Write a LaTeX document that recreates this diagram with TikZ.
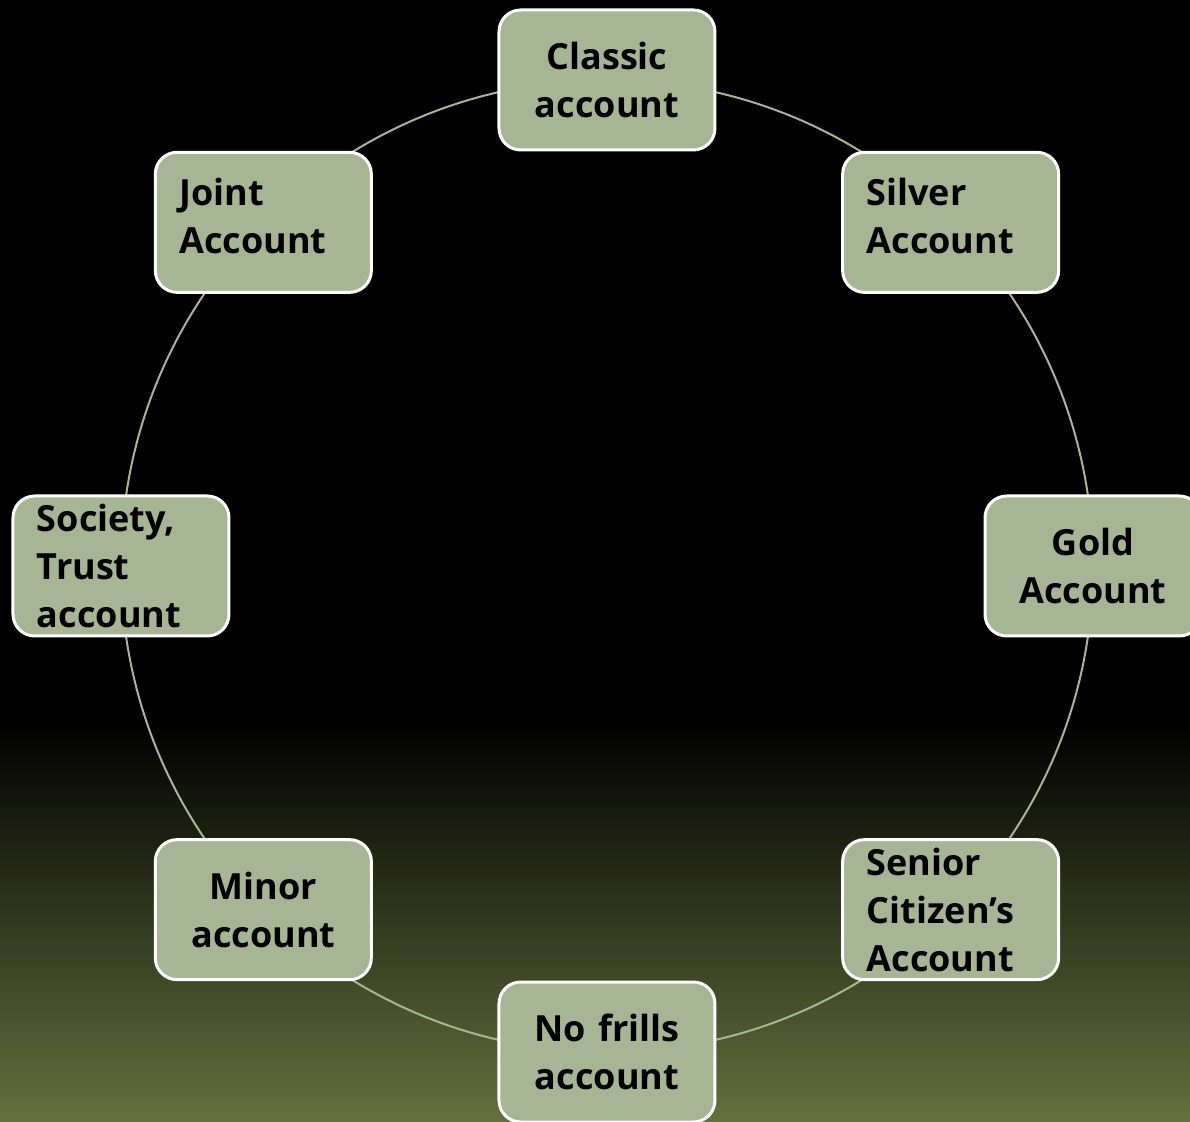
\documentclass[tikz,border=0pt]{standalone}
\usepackage{fontspec}
\setmainfont{Open Sans}
\definecolor{sage}{RGB}{166,181,147}
\definecolor{olive}{RGB}{100,112,60}
\tikzset{
  acct/.style={draw=white, line width=1.8pt, fill=sage, rounded corners=13pt,
    minimum width=129.6pt, minimum height=84pt, inner xsep=14.4pt, inner ysep=0pt,
    text width=100.8pt, font=\bfseries\fontsize{21.6pt}{28.8pt}\selectfont},
  ring/.style={draw=sage, line width=1.2pt}
}

\begin{document}
\begin{tikzpicture}[x=0.6pt,y=0.6pt]
    % backdrop
    \useasboundingbox (-607,-556) rectangle (583,566);
    \fill[black] (-607,-556) rectangle (583,566);
    \shade[top color=black, bottom color=olive] (-607,-556) rectangle (583,-154);

    \coordinate (hub) at (0,0);
    \draw[ring] (hub) circle (486);

    \node[acct, align=center] (classic)  at (90:486)   {Classic\\account};
    \node[acct, align=left, text depth=37pt] (silver) at (45:486) {Silver\\Account};
    \node[acct, align=center] (gold)     at (0:486)    {Gold\\Account};
    \node[acct, align=left]   (senior)   at (-45:486)  {Senior\\Citizen’s\\Account};
    \node[acct, align=center] (nofrills) at (-90:486)  {No frills\\account};
    \node[acct, align=center] (minor)    at (-135:486) {Minor\\account};
    \node[acct, align=left]   (society)  at (180:486)  {Society,\\Trust\\account};
    \node[acct, align=left, text depth=37pt] (joint) at (135:486) {Joint\\Account};
\end{tikzpicture}
\end{document}
